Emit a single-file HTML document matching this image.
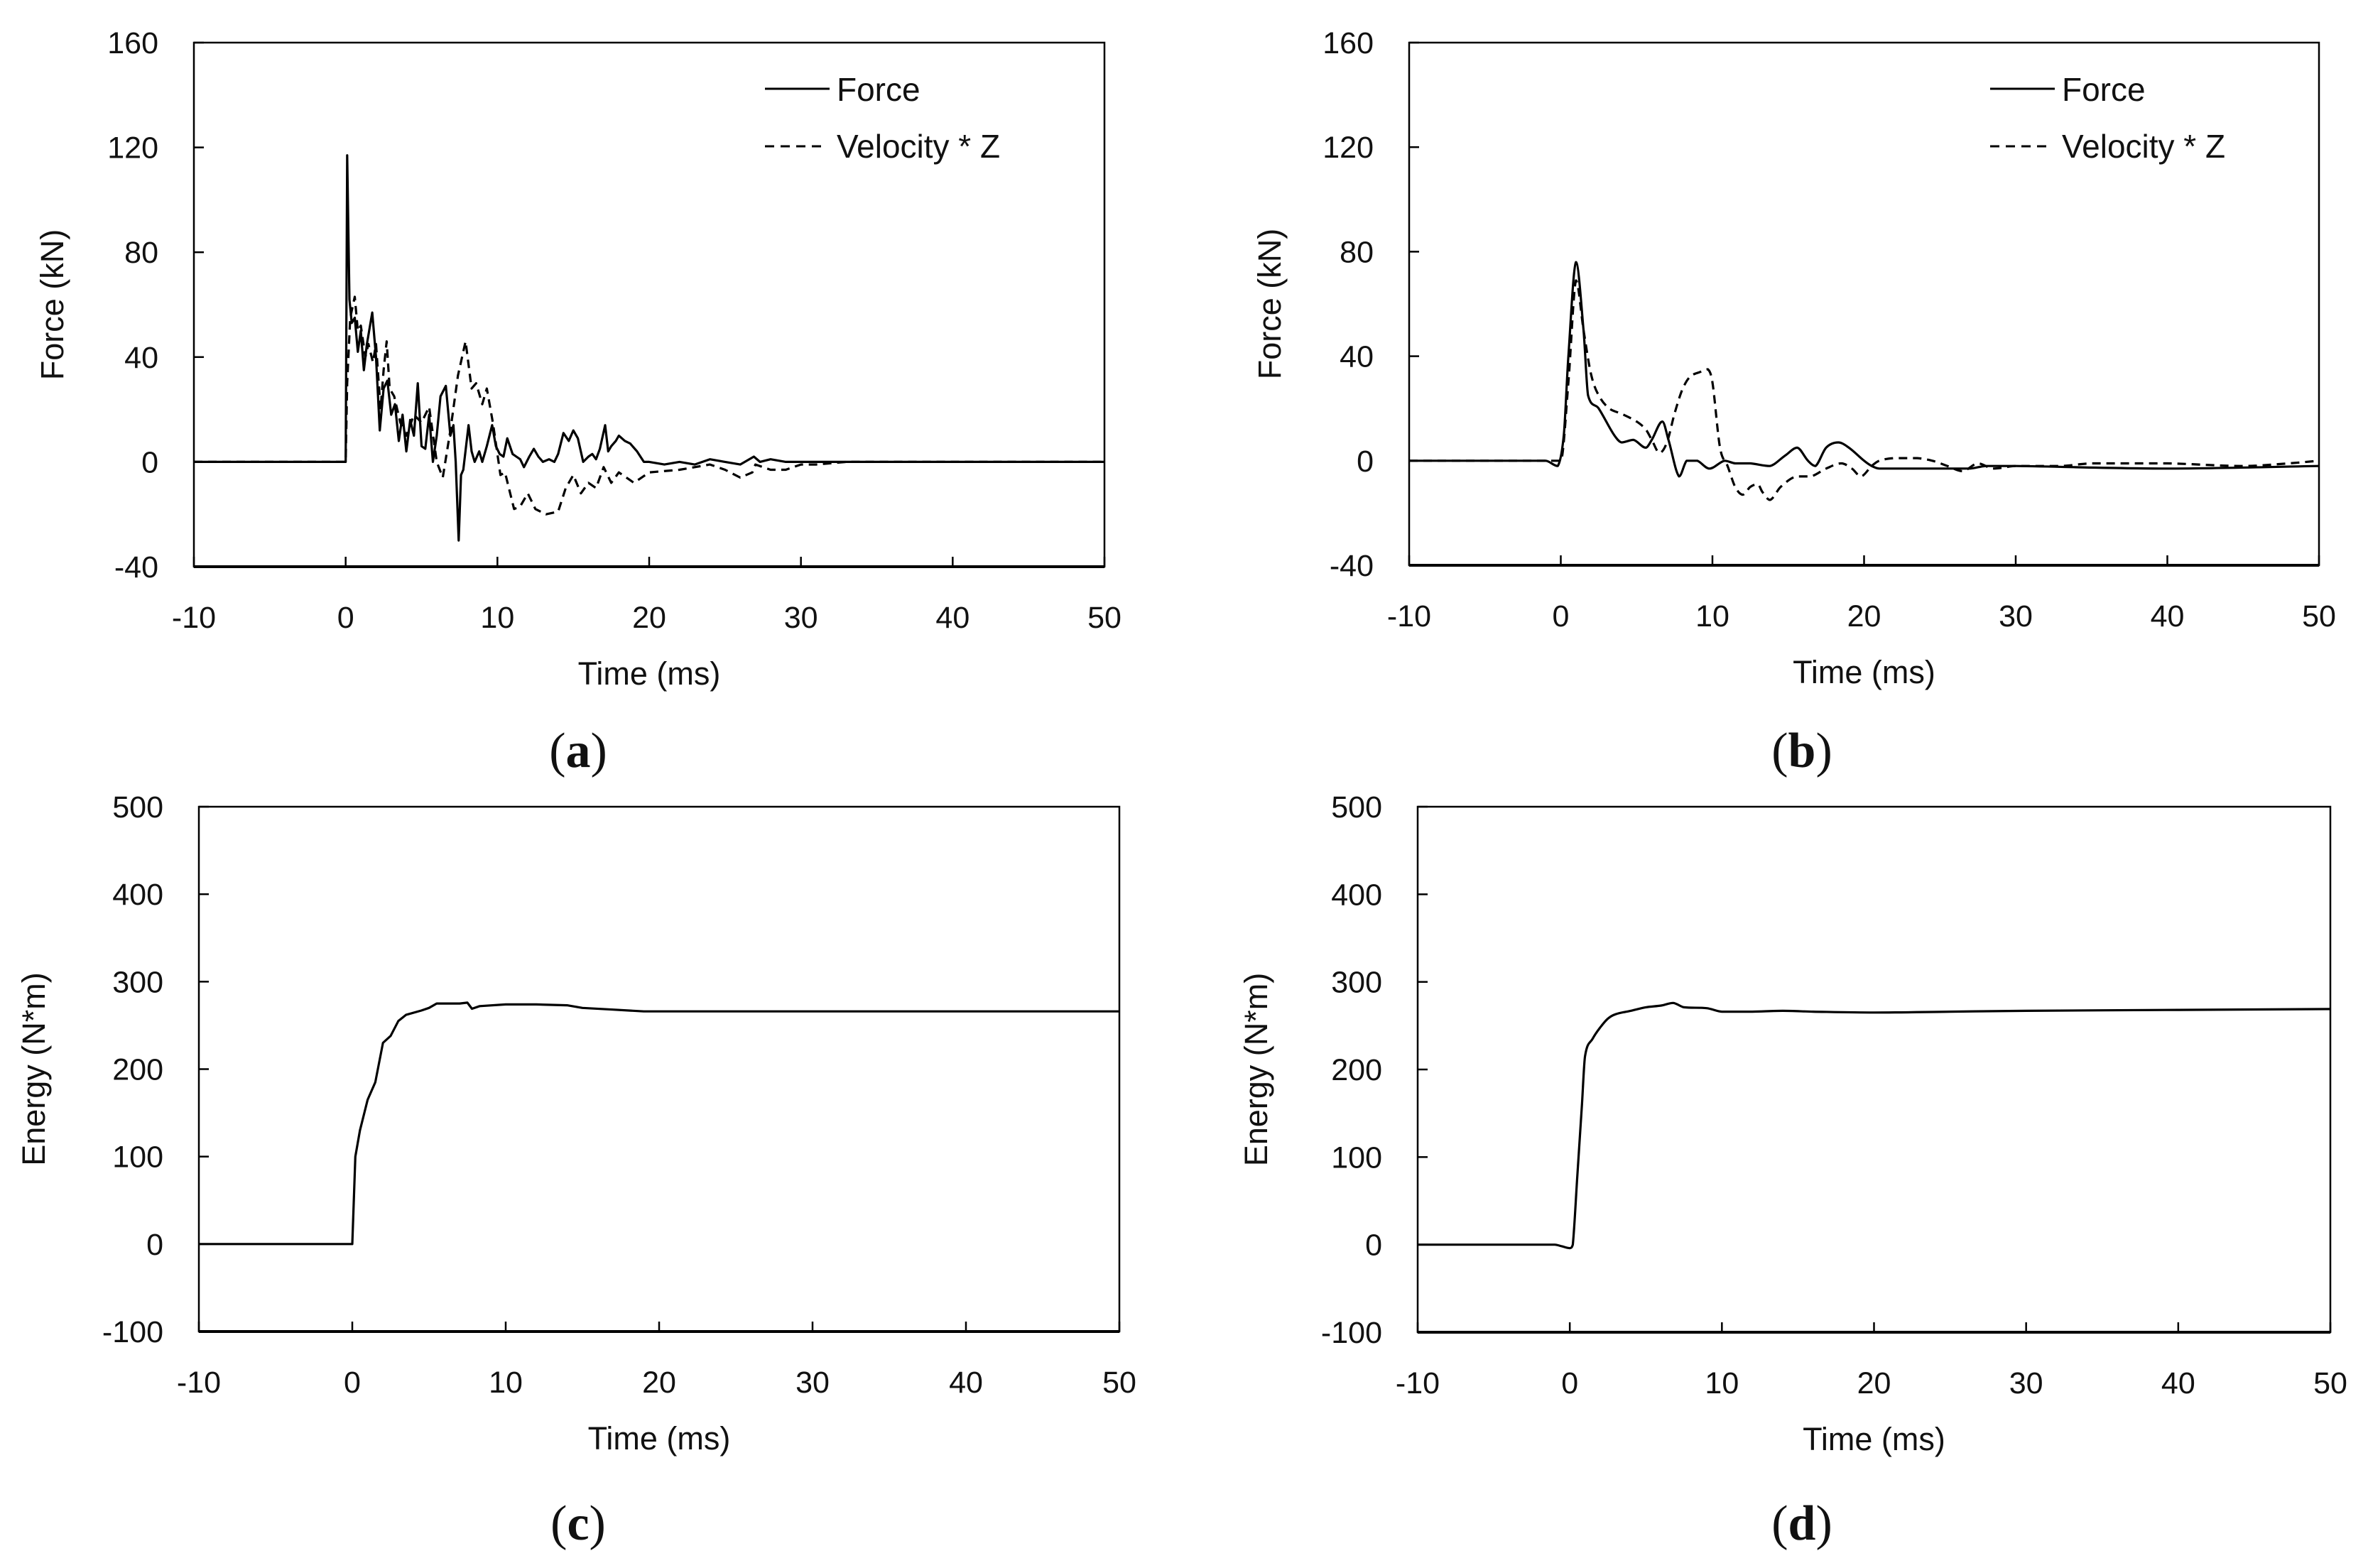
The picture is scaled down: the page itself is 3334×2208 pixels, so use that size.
<!DOCTYPE html>
<html><head><meta charset="utf-8">
<style>
html,body{margin:0;padding:0;background:#fff;}
svg{display:block;}
text{font-family:"Liberation Sans",Arial,sans-serif;fill:#111;}
.pl{font-family:"Liberation Serif",serif;}
</style></head>
<body>
<svg id="fig" width="3334" height="2208" viewBox="0 0 3334 2208" xmlns="http://www.w3.org/2000/svg"></svg>
<script>
// ---- data ----
const xTicks = [-10,0,10,20,30,40,50];
const forceTicks = [-40,0,40,80,120,160];
const energyTicks = [-100,0,100,200,300,400,500];

const aForceT = [-10,0,0.1,0.25,0.4,0.6,0.8,1.0,1.2,1.4,1.75,2.0,2.25,2.5,2.75,3.0,3.25,3.5,3.75,4.0,4.25,4.5,4.75,5.0,5.25,5.5,5.75,6.0,6.25,6.6,6.9,7.1,7.25,7.45,7.6,7.75,8.1,8.3,8.5,8.8,9.0,9.3,9.65,9.9,10.15,10.4,10.65,11.0,11.25,11.5,11.75,12.1,12.4,12.7,13.0,13.4,13.75,14.0,14.35,14.7,15.0,15.3,15.65,16.0,16.25,16.5,16.75,17.1,17.3,17.5,17.8,18.0,18.4,18.75,19.2,19.65,20,21,22,23,24,25,26,26.9,27.3,28,29,30,32,35,50];
const aForceV = [0,0,117,62,53,55,42,50,35,45,57,40,12,28,31,18,22,8,18,4,16,10,30,6,5,18,0,10,25,29,10,14,0,-30,-5,-3,14,4,0,4,0,6,14,6,3,2,9,3,2,1,-2,2,5,2,0,1,0,3,11,8,12,9,0,2,3,1,5,14,4,6,8,10,8,7,4,0,0,-1,0,-1,1,0,-1,2,0,1,0,0,0,0,0];

const aVelT = [-10,0,0.1,0.3,0.6,0.8,1.0,1.3,1.5,1.8,2.0,2.3,2.5,2.7,2.9,3.2,3.6,4.0,4.5,5.0,5.5,6.0,6.4,6.9,7.4,7.9,8.3,8.6,9.0,9.3,9.7,10.2,10.5,11.1,11.5,12.0,12.5,13.2,14.0,14.5,15.0,15.5,16.0,16.5,17.0,17.5,18.0,19.0,20,22,24,25,26,26.8,27,28,29,30,31,33,50];
const aVelV = [0,0,30,55,63,50,52,40,45,38,45,20,35,46,28,25,15,10,18,15,21,0,-6,12,33,46,28,30,22,28,15,-5,-4,-18,-17,-12,-18,-20,-19,-10,-5,-12,-8,-10,-2,-8,-4,-8,-4,-3,-1,-3,-6,-4,-1,-3,-3,-1,-1,0,0];

const bForceT = [-10,-1,-0.2,0.2,0.5,1.0,1.5,1.8,2.5,3.5,4.0,4.8,5.6,6.0,6.7,7.1,7.8,8.3,9.0,9.8,10.8,11.5,12.5,13.8,14.8,15.6,16.3,16.8,17.5,18.3,19.0,20,20.5,21,25,27,28,30,40,50];
const bForceV = [0,0,-2,10,40,76,50,25,20,10,7,8,5,8,15,8,-6,0,0,-3,0,-1,-1,-2,2,5,0,-2,5,7,5,0,-2,-3,-3,-3,-2,-2,-3,-2];

const bVelT = [-10,0,0.5,1.0,1.5,2,2.5,3.2,4,5,5.6,6,6.5,7,7.5,8,8.5,9.2,9.7,10,10.5,11,11.5,12,12.5,13,13.3,13.8,14.5,15.5,16.5,17.5,18.5,19.2,19.8,20.5,21,22,23.5,24.5,25.5,26.5,27.5,28.5,30,33,35,40,45,48,50];
const bVelV = [0,0,30,69,50,33,25,20,18,15,12,8,3,7,18,27,32,34,35,30,5,-2,-10,-13,-10,-9,-12,-15,-10,-6,-6,-3,-1,-3,-6,-2,0,1,1,0,-2,-4,-1,-3,-2,-2,-1,-1,-2,-1,0];

const cT = [-10,0,0.2,0.5,1.0,1.5,2.0,2.5,3.0,3.5,4.5,5,5.5,7,7.5,7.8,8.3,10,12,14,15,17,19,20,50];
const cE = [0,0,100,130,165,185,230,238,255,262,267,270,275,275,276,269,272,274,274,273,270,268,266,266,266];

const dT = [-10,-1,-0.5,0,0.2,0.5,0.8,1.0,1.5,2.0,2.5,3,4,5,6,6.8,7.5,9,10,12,14,16,20,25,30,40,50];
const dE = [0,0,-2,-4,0,80,160,215,235,248,258,263,267,271,273,276,271,270,266,266,267,266,265,266,267,268,269];

// ---- drawing ----
const NS = "http://www.w3.org/2000/svg";
const svg = document.getElementById("fig");
function mk(tag, attrs, parent) {
  const e = document.createElementNS(NS, tag);
  for (const k in attrs) e.setAttribute(k, attrs[k]);
  (parent || svg).appendChild(e);
  return e;
}
function clamp(v,a,b){const lo=Math.min(a,b),hi=Math.max(a,b);return Math.max(lo,Math.min(hi,v));}
function pathD(pts, smooth) {
  if (!smooth) return pts.map((p,i)=>(i?"L":"M")+p[0].toFixed(1)+" "+p[1].toFixed(1)).join(" ");
  let d = "M"+pts[0][0].toFixed(1)+" "+pts[0][1].toFixed(1);
  for (let i=0;i<pts.length-1;i++){
    const p0=pts[i-1]||pts[i], p1=pts[i], p2=pts[i+1], p3=pts[i+2]||p2;
    const dx=p2[0]-p1[0];
    let s1=(p2[1]-p0[1])/Math.max(1e-6,p2[0]-p0[0]);
    let s2=(p3[1]-p1[1])/Math.max(1e-6,p3[0]-p1[0]);
    const c1=[p1[0]+dx/3, clamp(p1[1]+s1*dx/3,p1[1],p2[1])];
    const c2=[p2[0]-dx/3, clamp(p2[1]-s2*dx/3,p1[1],p2[1])];
    d+=" C"+c1[0].toFixed(1)+" "+c1[1].toFixed(1)+" "+c2[0].toFixed(1)+" "+c2[1].toFixed(1)+" "+p2[0].toFixed(1)+" "+p2[1].toFixed(1);
  }
  return d;
}
function panel(p) {
  const g = mk("g", {});
  
  
  const sx = v => p.L + (v - p.x0) / (p.x1 - p.x0) * (p.R - p.L);
  const sy = v => p.B - (v - p.y0) / (p.y1 - p.y0) * (p.B - p.T);
  const frame = mk("rect", {x:p.L, y:p.T, width:p.R-p.L, height:p.B-p.T, fill:"none", stroke:"#000", "stroke-width":2.5}, g);
  
  
  const xb = mk("line", {x1:p.L, y1:p.B, x2:p.R, y2:p.B, stroke:"#000", "stroke-width":4}, g);
  
  
  xTicks.forEach(v => {
    const x = sx(v);
    const t = mk("line", {x1:x, y1:p.B, x2:x, y2:p.B-14, stroke:"#000", "stroke-width":2.5}, g);
    
    
    const l = mk("text", {x:x, y:p.B+86, "font-size":43, "text-anchor":"middle"}, g);
    l.textContent = v;
    
    
  });
  p.yt.forEach(v => {
    const y = sy(v);
    const t = mk("line", {x1:p.L, y1:y, x2:p.L+14, y2:y, stroke:"#000", "stroke-width":2.5}, g);
    
    
    const l = mk("text", {x:p.L-50, y:y+15, "font-size":43, "text-anchor":"end"}, g);
    l.textContent = v;
    
    
  });
  const xt = mk("text", {x:(p.L+p.R)/2, y:p.B+166, "font-size":45, "text-anchor":"middle"}, g);
  xt.textContent = "Time (ms)";
  
  
  const yc = (p.T+p.B)/2;
  const yt = mk("text", {x:p.ytx, y:yc, "font-size":45, "text-anchor":"middle", transform:`rotate(-90 ${p.ytx} ${yc})`, dy:16}, g);
  yt.textContent = p.ytitle;
  
  
  p.series.forEach(s => {
    const pts = s.t.map((t,i)=>[sx(t), sy(s.v[i])]);
    const path = mk("path", {d:pathD(pts, p.smooth), fill:"none", stroke:"#000", "stroke-width":3.2, "stroke-linejoin":"round", "stroke-dasharray":s.dash||"none"}, g);
    
    
  });
  if (p.legend) {
    const lx = p.legend;
    const l1 = mk("line", {x1:lx, y1:125, x2:lx+91, y2:125, stroke:"#000", "stroke-width":3}, g);
    
    
    const t1 = mk("text", {x:lx+101, y:142, "font-size":46}, g);
    t1.textContent = "Force";
    
    
    const l2 = mk("line", {x1:lx, y1:206, x2:lx+85, y2:206, stroke:"#000", "stroke-width":3, "stroke-dasharray":"13 9"}, g);
    
    
    const t2 = mk("text", {x:lx+101, y:222, "font-size":46}, g);
    t2.textContent = "Velocity * Z";
    
    
  }
  const pl = mk("text", {x:p.plx, y:p.ply, "font-size":70, "text-anchor":"middle", class:"pl"}, g);
  pl.innerHTML = '(<tspan font-weight="bold">' + p.label + '</tspan>)';
  
  
}
panel({name:"panel-a", L:273,R:1555,T:60,B:798,x0:-10,x1:50,y0:-40,y1:160,yt:forceTicks,ytitle:"Force (kN)",ytx:73,
  series:[{name:"force-line-a",t:aForceT,v:aForceV},{name:"velocity-line-a",t:aVelT,v:aVelV,dash:"12 8"}],
  legend:1077,label:"a",plx:814,ply:1080});
panel({name:"panel-b", L:1984,R:3265,T:60,B:796,x0:-10,x1:50,y0:-40,y1:160,yt:forceTicks,ytitle:"Force (kN)",ytx:1787,smooth:true,
  series:[{name:"force-line-b",t:bForceT,v:bForceV},{name:"velocity-line-b",t:bVelT,v:bVelV,dash:"12 8"}],
  legend:2802,label:"b",plx:2537,ply:1080});
panel({name:"panel-c", L:280,R:1576,T:1136,B:1875,x0:-10,x1:50,y0:-100,y1:500,yt:energyTicks,ytitle:"Energy (N*m)",ytx:47,
  series:[{name:"energy-line-c",t:cT,v:cE}],label:"c",plx:814,ply:2168});
panel({name:"panel-d", L:1996,R:3281,T:1136,B:1876,x0:-10,x1:50,y0:-100,y1:500,yt:energyTicks,ytitle:"Energy (N*m)",ytx:1768,smooth:true,
  series:[{name:"energy-line-d",t:dT,v:dE}],label:"d",plx:2537,ply:2168});
</script>
</body></html>
